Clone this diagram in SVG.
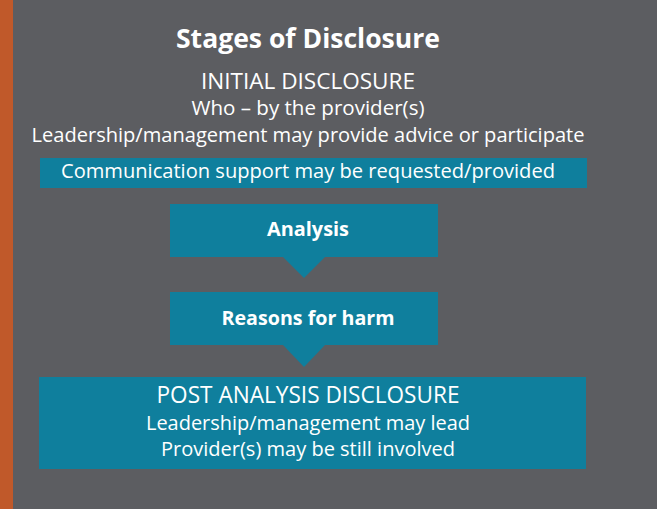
<svg xmlns="http://www.w3.org/2000/svg" width="657" height="509" viewBox="0 0 657 509">
<style>
.t{font-family:"Open Sans","Noto Sans","Liberation Sans",sans-serif;fill:#ffffff;text-anchor:middle}
.b{font-weight:bold}
.box{fill:#0f7f9d}
</style>
<rect x="0" y="0" width="657" height="509" fill="#5c5d61"/>
<rect x="0" y="0" width="13" height="509" fill="#c0592a"/>
<g id="title">
<text class="t b" x="308" y="48" font-size="26" textLength="264" lengthAdjust="spacingAndGlyphs">Stages of Disclosure</text>
</g>
<g id="initial">
<text class="t" x="308" y="89" font-size="21" textLength="214" lengthAdjust="spacingAndGlyphs">INITIAL DISCLOSURE</text>
<text class="t" x="308" y="115" font-size="20" textLength="233" lengthAdjust="spacingAndGlyphs">Who – by the provider(s)</text>
<text class="t" x="308" y="142" font-size="20" textLength="553" lengthAdjust="spacingAndGlyphs">Leadership/management may provide advice or participate</text>
</g>
<g id="communication">
<rect class="box" x="40" y="158" width="547" height="30"/>
<text class="t" x="308" y="178" font-size="20" textLength="494" lengthAdjust="spacingAndGlyphs">Communication support may be requested/provided</text>
</g>
<g id="connectors">
<polygon class="box" points="283,257 325,257 304,278"/>
<polygon class="box" points="283,345 325,345 304,367"/>
</g>
<g id="analysis">
<rect class="box" x="170" y="204" width="268" height="53"/>
<text class="t b" x="308" y="236" font-size="20" textLength="82" lengthAdjust="spacingAndGlyphs">Analysis</text>
</g>
<g id="reasons">
<rect class="box" x="170" y="292" width="268" height="53"/>
<text class="t b" x="308" y="325" font-size="20" textLength="173" lengthAdjust="spacingAndGlyphs">Reasons for harm</text>
</g>
<g id="post">
<rect class="box" x="39" y="377" width="547" height="92"/>
<text class="t" x="308" y="403" font-size="23" textLength="303" lengthAdjust="spacingAndGlyphs">POST ANALYSIS DISCLOSURE</text>
<text class="t" x="308" y="430" font-size="20" textLength="324" lengthAdjust="spacingAndGlyphs">Leadership/management may lead</text>
<text class="t" x="308" y="456" font-size="20" textLength="294" lengthAdjust="spacingAndGlyphs">Provider(s) may be still involved</text>
</g>
</svg>
